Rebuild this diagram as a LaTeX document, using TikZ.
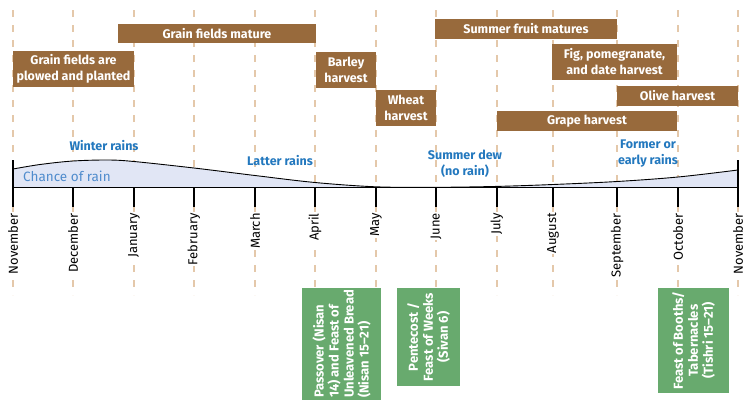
\documentclass[tikz,border=0pt]{standalone}
\usepackage{fontspec}
\setmainfont{Fira Sans}
\definecolor{cropbrown}{RGB}{152,106,60}
\definecolor{feastgreen}{RGB}{104,170,110}
\definecolor{rainblue}{RGB}{35,120,190}
\definecolor{chanceblue}{RGB}{80,140,205}
\definecolor{rainfill}{RGB}{225,230,245}
\definecolor{guidetan}{RGB}{228,200,170}
\begin{document}
\begin{tikzpicture}[
    x = 1pt, y = -1pt,
    task/.style = {fill = cropbrown, text = white, inner sep = 0pt, align = center,
                   font = \bfseries\fontsize{12.5}{16}\selectfont},
    feast/.style = {fill = feastgreen, text = white, inner sep = 0pt, rotate = 90,
                    font = \bfseries\fontsize{13}{15}\selectfont},
    month/.style = {rotate = 90, anchor = east, fill = white, inner sep = 1pt,
                    font = \fontsize{13}{14}\selectfont},
    rain/.style = {text = rainblue, inner sep = 0pt, align = center,
                   font = \bfseries\fontsize{12.5}{16}\selectfont},
    guide/.style = {draw = guidetan, line width = 1.3pt, dash pattern = on 7pt off 8pt},
    tick/.style = {draw = black, line width = 1.2pt}
  ]
  \useasboundingbox (0,0) rectangle (743,400);

  % month guides
  \foreach \x [count = \i from 0] in {13,73,134,194,255,315,376,436,497,553,617,678,738} {
    \coordinate (g\i) at (\x,10);
    \coordinate (h\i) at (\x,295);
    \draw[guide] (g\i) -- (h\i);
  }

  % chance of rain
  \coordinate (r0) at (13,187);
  \coordinate (r1) at (738,187);
  \fill[rainfill] (r0) -- plot[smooth, tension = 0.55] coordinates {
      (13,169) (40,164.5) (73,161) (108,160) (134,161.5) (194,168) (255,175.5)
      (315,182.5) (376,186.8) (436,187.3) (497,186.4) (553,184.5) (617,181.5)
      (678,177) (738,170)} -- (r1) -- cycle;
  \draw[line width = 0.9pt] plot[smooth, tension = 0.55] coordinates {
      (13,169) (40,164.5) (73,161) (108,160) (134,161.5) (194,168) (255,175.5)
      (315,182.5) (376,186.8) (436,187.3) (497,186.4) (553,184.5) (617,181.5)
      (678,177) (738,170)};
  \node (chance) [anchor = west, inner sep = 0pt, text = chanceblue,
                  font = \fontsize{13.5}{14}\selectfont] at (23,176) {Chance of rain};

  % axis and ticks
  \draw[line width = 0.9pt] (r0) -- (r1);
  \coordinate (e0) at (13,160);
  \coordinate (e1) at (738,160);
  \draw[tick] (e0) -- (r0);
  \draw[tick] (e1) -- (r1);
  \foreach \x/\name [count = \i from 0] in {13/November,73/December,134/January,194/February,
      255/March,315/April,376/May,436/June,497/July,553/August,617/September,678/October,738/November} {
    \coordinate (m\i) at (\x,187);
    \coordinate (t\i) at (\x,207);
    \draw[tick] (m\i) -- (t\i);
    \node (n\i) [month] at (\x,212) {\name};
  }

  % rain labels
  \node (winter) [rain] at (104,146) {Winter rains};
  \node (latter) [rain] at (280,161) {Latter rains};
  \node (dew) [rain] at (465,164) {Summer dew\\(no rain)};
  \node (former) [rain] at (648,153.5) {Former or\\early rains};

  % farming
  \node (mature) [task, minimum width = 198pt, minimum height = 19pt] at (217,33.5) {Grain fields mature};
  \node (plowed) [task, minimum width = 121pt, minimum height = 36pt] at (73.5,69) {Grain fields are\\plowed and planted};
  \node (barley) [task, minimum width = 60pt, minimum height = 36pt] at (346,70) {Barley\\harvest};
  \node (wheat) [task, minimum width = 60pt, minimum height = 36pt] at (406,108) {Wheat\\harvest};
  \node (fruit) [task, minimum width = 182pt, minimum height = 20pt] at (526,29) {Summer fruit matures};
  \node (fig) [task, minimum width = 125pt, minimum height = 36pt] at (614.5,62) {Fig, pomegranate,\\and date harvest};
  \node (olive) [task, minimum width = 121pt, minimum height = 20pt] at (677.5,96) {Olive harvest};
  \node (grape) [task, minimum width = 180pt, minimum height = 20pt] at (587,121) {Grape harvest};

  % feasts
  \node (passover) [feast, align = left, minimum width = 112pt, minimum height = 79pt] at (341.5,344)
    {Passover (Nisan\\14) and Feast of\\Unleavened Bread\\(Nisan 15--21)};
  \node (pentecost) [feast, align = center, minimum width = 98pt, minimum height = 63pt] at (428.5,337)
    {Pentecost /\\Feast of Weeks\\(Sivan 6)};
  \node (booths) [feast, align = center, minimum width = 105pt, minimum height = 71pt] at (693.5,340.5)
    {Feast of Booths/\\Tabernacles\\(Tishri 15--21)};
\end{tikzpicture}
\end{document}
